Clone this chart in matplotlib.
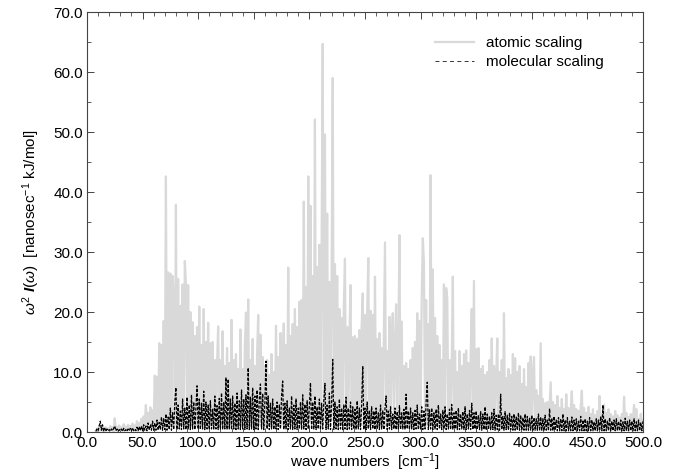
import numpy as np
import matplotlib
matplotlib.use("Agg")
import matplotlib.pyplot as plt
from matplotlib.ticker import MultipleLocator, FormatStrFormatter

plt.rcParams['font.family'] = 'Liberation Sans'
plt.rcParams['mathtext.fontset'] = 'custom'
plt.rcParams['mathtext.rm'] = 'Liberation Sans'
plt.rcParams['mathtext.it'] = 'Liberation Sans:italic'
plt.rcParams['mathtext.bf'] = 'Liberation Sans:bold'
plt.rcParams['mathtext.bfit'] = 'Liberation Sans:bold:italic'

# wave numbers, 1 cm^-1 grid from 8 to 500
wavenumbers = np.arange(8, 501)

# atomic scaling spectrum
atomic = [
    0.2, 0.6,
    0.1, 0.9, 0.3, 1.1, 0.2, 0.7, 0.1, 0.8, 0.3, 0.6,
    0.2, 1.0, 0.4, 0.8, 0.1, 2.3, 0.3, 0.9, 0.2, 1.1,
    0.4, 0.8, 0.2, 1.3, 0.5, 0.9, 0.3, 1.2, 0.4, 1.0,
    0.6, 1.4, 0.5, 1.1, 0.7, 1.8, 0.4, 1.5, 0.8, 2.2,
    0.9, 2.6, 1.2, 4.5, 1.0, 3.2, 1.5, 4.1, 1.2, 3.6,
    1.4, 9.4, 1.0, 9.2, 1.5, 14.8, 1.2, 14.5, 1.8, 18.5,
    1.5, 42.6, 1.2, 26.6, 1.8, 26.4, 1.5, 26.0, 22.5, 1.2,
    37.9, 1.5, 25.5, 1.8, 21.0, 1.2, 24.6, 1.5, 28.5, 24.7,
    1.2, 24.5, 1.5, 20.0, 1.0, 18.3, 1.2, 16.0, 1.0, 17.5,
    1.2, 20.9, 1.0, 14.5, 1.2, 20.5, 1.0, 15.0, 1.2, 18.2,
    1.0, 14.8, 1.2, 15.0, 1.0, 12.0, 1.2, 11.5, 17.6, 1.0,
    12.0, 1.2, 16.8, 1.0, 11.0, 1.2, 14.0, 1.0, 11.5, 1.2,
    18.7, 1.0, 12.0, 1.2, 13.0, 1.0, 10.5, 1.2, 17.1, 1.0,
    10.5, 1.2, 14.5, 19.9, 1.0, 22.1, 1.2, 12.0, 1.0, 15.5,
    1.2, 11.0, 1.0, 13.0, 19.5, 1.2, 16.2, 1.0, 12.5, 1.2,
    11.0, 1.0, 12.0, 1.2, 9.5, 1.0, 13.0, 1.2, 10.0, 1.0,
    17.7, 1.2, 12.5, 1.0, 16.5, 1.2, 11.0, 18.1, 1.0, 14.5,
    1.2, 27.4, 1.5, 16.0, 1.2, 18.0, 1.5, 20.5, 1.8, 17.5,
    1.5, 21.7, 1.2, 22.0, 1.8, 38.4, 1.5, 24.2, 2.0, 42.6,
    1.8, 37.7, 2.0, 26.0, 1.8, 52.1, 2.0, 27.5, 1.8, 31.2,
    2.0, 30.5, 64.7, 1.8, 49.6, 2.0, 36.4, 1.8, 25.0, 2.0,
    26.5, 59.0, 1.8, 28.0, 1.5, 26.0, 1.8, 20.5, 1.5, 19.0,
    1.2, 21.0, 28.9, 1.2, 17.5, 1.0, 15.5, 24.5, 1.2, 15.8,
    1.0, 16.0, 1.2, 15.5, 1.0, 17.0, 1.2, 17.5, 23.1, 1.0,
    19.5, 1.2, 20.0, 29.0, 1.2, 20.2, 1.5, 19.5, 1.2, 25.9,
    1.0, 15.5, 1.2, 16.5, 1.0, 14.0, 1.2, 16.4, 31.6, 1.0,
    13.5, 1.2, 19.2, 1.0, 14.5, 19.8, 1.2, 15.0, 21.3, 1.0,
    14.0, 32.8, 1.0, 18.4, 1.2, 11.0, 1.0, 11.5, 1.2, 10.5,
    1.0, 12.0, 1.2, 14.0, 1.0, 15.0, 1.2, 19.8, 1.0, 18.5,
    1.2, 22.0, 32.3, 28.3, 1.5, 22.0, 1.2, 18.0, 1.5, 42.8,
    1.2, 27.1, 1.5, 19.0, 1.2, 16.0, 1.5, 14.5, 1.2, 12.0,
    1.5, 24.6, 1.2, 24.0, 22.3, 1.2, 12.0, 1.0, 11.5, 25.9,
    1.0, 13.5, 1.2, 10.0, 1.0, 13.5, 1.2, 11.0, 1.0, 13.0,
    1.0, 13.6, 1.2, 11.5, 1.0, 12.5, 20.5, 1.0, 25.2, 1.0,
    13.8, 1.2, 14.0, 1.0, 10.5, 0.8, 11.0, 1.0, 9.5, 0.8,
    10.0, 1.0, 12.0, 0.8, 15.6, 1.0, 11.0, 0.8, 9.5, 15.6,
    1.0, 10.0, 0.8, 12.0, 1.0, 19.8, 0.8, 9.0, 1.0, 10.5,
    0.8, 9.5, 1.0, 13.0, 0.8, 12.3, 1.0, 10.0, 0.8, 11.0,
    1.0, 8.0, 0.8, 10.5, 1.0, 7.5, 0.8, 11.5, 1.0, 12.6,
    0.8, 10.0, 12.5, 0.8, 7.0, 1.0, 6.0, 0.8, 14.8, 0.8,
    5.5, 0.8, 4.8, 0.7, 5.0, 0.8, 4.5, 8.3, 0.7, 5.0,
    0.8, 4.5, 0.7, 6.0, 0.8, 4.0, 0.6, 5.5, 0.7, 3.8,
    0.6, 6.3, 0.7, 4.0, 0.6, 3.5, 6.8, 0.6, 4.5, 0.7,
    3.8, 0.6, 3.5, 0.5, 4.2, 6.9, 0.6, 4.0, 0.5, 3.2,
    0.6, 4.2, 0.5, 3.0, 0.6, 3.8, 0.5, 2.8, 0.6, 3.5,
    0.5, 6.0, 0.6, 3.0, 0.5, 4.5, 0.6, 3.2, 0.5, 3.8,
    0.6, 3.0, 0.5, 2.6, 0.4, 3.5, 0.5, 2.8, 0.4, 2.4,
    0.5, 3.0, 0.4, 5.9, 0.5, 3.2, 0.4, 2.5, 0.5, 3.0,
    0.4, 2.5, 4.5, 0.4, 3.8, 0.5, 2.2, 0.4, 3.0, 0.5,
    2.0,
]

# molecular scaling spectrum
molecular = [
    0.1, 0.5,
    0.2, 1.0, 1.8, 0.3, 1.2, 0.2, 0.6, 0.1, 0.5, 0.2,
    0.4, 0.1, 0.5, 0.2, 0.6, 1.0, 0.2, 0.5, 0.1, 0.4,
    0.2, 0.5, 0.1, 0.6, 0.2, 0.4, 0.1, 0.5, 0.2, 0.6,
    0.2, 0.7, 0.2, 0.5, 0.2, 0.8, 0.2, 0.9, 0.2, 1.0,
    0.2, 1.2, 0.3, 1.0, 0.2, 1.5, 0.3, 1.2, 0.3, 1.8,
    0.3, 1.5, 0.3, 2.0, 0.3, 1.6, 0.4, 2.5, 0.3, 2.2,
    0.4, 3.0, 0.3, 2.5, 0.4, 4.0, 0.3, 3.2, 0.4, 5.0,
    7.4, 0.4, 4.5, 0.5, 3.5, 0.4, 5.5, 0.5, 4.0, 0.4,
    5.8, 0.5, 4.5, 0.4, 6.2, 0.5, 5.0, 0.4, 4.2, 7.7,
    0.5, 5.5, 0.4, 4.8, 0.5, 6.8, 0.4, 5.0, 0.5, 4.5,
    0.4, 5.2, 0.5, 3.8, 0.4, 6.0, 0.5, 4.4, 0.4, 5.6,
    0.5, 6.5, 0.4, 5.0, 0.5, 9.1, 0.4, 8.8, 0.5, 5.5,
    0.4, 6.0, 0.5, 4.8, 0.4, 6.5, 0.5, 5.2, 0.4, 7.0,
    0.5, 5.5, 0.4, 6.2, 0.5, 10.7, 0.4, 5.8, 0.5, 7.4,
    0.4, 6.0, 0.5, 7.0, 0.4, 5.5, 8.0, 0.5, 6.4, 0.4,
    5.0, 11.8, 0.5, 6.0, 0.4, 4.8, 0.5, 5.5, 0.4, 4.2,
    0.5, 5.0, 0.4, 4.5, 0.5, 6.0, 8.5, 0.4, 4.8, 0.5,
    5.2, 0.4, 4.0, 0.5, 6.0, 0.4, 4.5, 0.5, 5.5, 0.4,
    4.0, 0.5, 5.0, 0.4, 6.2, 0.5, 4.6, 0.4, 5.2, 0.5,
    4.5, 8.2, 0.4, 5.0, 0.5, 6.0, 0.4, 4.2, 0.5, 5.5,
    0.4, 4.8, 0.5, 5.2, 8.1, 0.4, 4.5, 0.5, 6.5, 0.4,
    4.8, 12.1, 0.4, 5.0, 0.5, 4.2, 0.4, 5.5, 0.5, 4.0,
    0.4, 4.6, 0.5, 5.8, 0.4, 4.0, 0.5, 5.0, 0.4, 4.2,
    0.5, 3.8, 0.4, 5.2, 0.5, 4.0, 0.4, 4.5, 11.0, 0.4,
    4.0, 0.4, 5.0, 0.5, 3.6, 0.4, 4.2, 0.5, 3.5, 0.4,
    4.0, 0.5, 3.2, 0.4, 4.5, 0.5, 3.6, 0.4, 4.0, 6.0,
    0.4, 3.5, 0.5, 4.2, 0.4, 3.0, 0.5, 4.0, 0.4, 3.4,
    0.5, 4.4, 0.4, 3.2, 0.5, 3.8, 0.4, 6.3, 0.5, 3.5,
    0.4, 4.0, 0.5, 3.2, 0.4, 3.6, 0.5, 4.5, 0.4, 3.0,
    0.5, 4.2, 0.4, 3.5, 0.5, 5.0, 8.3, 0.4, 3.8, 0.5,
    4.0, 0.4, 3.2, 0.5, 3.8, 0.4, 4.5, 0.5, 3.0, 0.4,
    3.6, 0.5, 4.2, 0.4, 3.0, 0.5, 3.8, 0.4, 4.6, 0.4,
    3.2, 0.5, 3.6, 0.4, 4.0, 0.4, 3.0, 0.5, 3.4, 0.4,
    4.2, 0.4, 3.0, 0.5, 3.6, 0.4, 4.8, 0.4, 3.2, 0.5,
    3.5, 0.4, 2.8, 0.4, 3.4, 0.3, 3.0, 0.4, 4.2, 0.3,
    3.0, 0.4, 2.6, 0.3, 3.2, 0.4, 3.8, 0.3, 2.8, 0.4,
    3.0, 0.3, 6.3, 0.4, 2.6, 0.3, 3.4, 0.4, 2.8, 0.3,
    3.2, 0.4, 2.6, 0.3, 3.0, 0.3, 2.5, 0.3, 3.2, 0.3,
    2.8, 0.3, 2.4, 0.3, 3.0, 0.3, 2.6, 0.3, 2.3, 0.3,
    2.8, 0.3, 2.4, 0.3, 2.2, 0.3, 3.0, 0.2, 2.5, 0.3,
    2.2, 0.2, 2.8, 0.3, 2.0, 0.2, 3.9, 0.3, 2.3, 0.2,
    2.6, 0.3, 2.0, 0.2, 2.4, 0.2, 2.2, 0.2, 3.0, 0.2,
    2.0, 0.2, 2.4, 0.2, 1.8, 0.2, 2.5, 0.2, 2.0, 0.2,
    2.2, 0.2, 1.8, 0.2, 2.6, 0.2, 2.0, 0.2, 2.2, 0.2,
    1.8, 0.2, 2.4, 0.2, 2.0, 0.2, 1.7, 0.2, 2.2, 0.2,
    2.0, 0.2, 2.6, 0.2, 4.5, 0.2, 2.2, 0.2, 1.9, 0.2,
    2.4, 0.2, 1.8, 0.2, 2.0, 0.2, 2.2, 0.2, 1.8, 0.2,
    2.0, 0.2, 1.7, 0.2, 2.3, 0.2, 1.8, 0.2, 2.0, 0.2,
    1.8, 0.2, 2.2, 0.2, 1.7, 0.2, 2.0, 0.2, 1.6, 0.2,
    1.8,
]

fig = plt.figure(figsize=(6.74, 4.74), dpi=100)
ax = fig.add_axes([0.129, 0.0886, 0.825, 0.886])

ax.plot(wavenumbers, atomic, color='#d9d9d9', lw=1.6, label='atomic scaling')
ax.plot(wavenumbers, molecular, color='black', lw=0.9, dashes=(2.5, 1.2),
        label='molecular scaling')

ax.set_xlim(0, 500)
ax.set_ylim(0, 70)
ax.xaxis.set_major_locator(MultipleLocator(50))
ax.xaxis.set_minor_locator(MultipleLocator(10))
ax.yaxis.set_major_locator(MultipleLocator(10))
ax.yaxis.set_minor_locator(MultipleLocator(5))
ax.xaxis.set_major_formatter(FormatStrFormatter('%.1f'))
ax.yaxis.set_major_formatter(FormatStrFormatter('%.1f'))
ax.tick_params(which='both', direction='in', top=True, right=True,
               labelsize=11, color='#444444')
ax.tick_params(which='major', length=5, width=0.7, pad=3)
ax.tick_params(which='minor', length=3, width=0.6)
for s in ax.spines.values():
    s.set_color('#444444')
    s.set_linewidth(0.8)

ax.set_xlabel(r'wave numbers  [cm$^{-1}$]', fontsize=11, labelpad=1)
ax.set_ylabel(r'$\omega^{2}\ \mathbfit{I}(\omega)\ \ [\mathrm{nanosec}^{-1}\ \mathrm{kJ/mol}]$',
              fontsize=11, labelpad=8)

leg = ax.legend(loc='upper right', bbox_to_anchor=(0.955, 0.975), frameon=False,
                fontsize=11, handlelength=2.6, labelspacing=0.3, handletextpad=0.8)
leg_lines = leg.get_lines()
leg_lines[0].set_linewidth(1.6)
leg_lines[1].set_linewidth(0.7)
leg_lines[1].set_dashes((4, 3.5))
leg_lines[1].set_color('#333333')

fig.savefig('out.png', dpi=100)
